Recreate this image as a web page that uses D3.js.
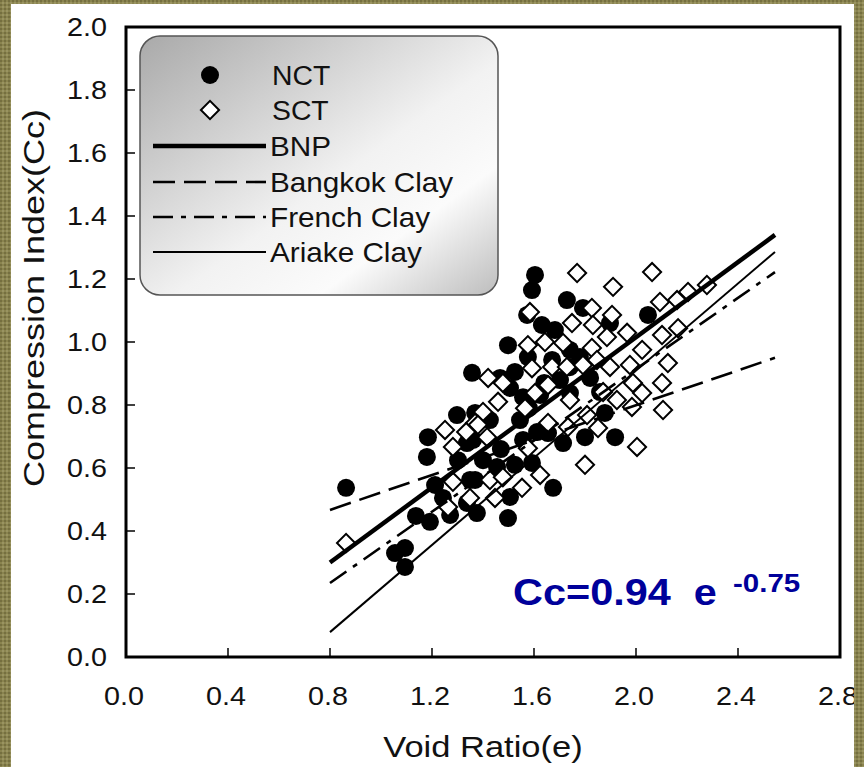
<!DOCTYPE html>
<html>
<head>
<meta charset="utf-8">
<script src="https://cdn.jsdelivr.net/npm/d3@7"></script>
<style>
  html, body { margin: 0; padding: 0; background: #857f4d; }
  svg { display: block; }
  text { font-family: "Liberation Sans", Arial, sans-serif; fill: #111; }
</style>
</head>
<body>
<svg id="viz"></svg>
<script>
const svg = d3.select("#viz");
const width = 864;
const height = 767;
svg.attr("width", width).attr("height", height);

// NCT samples (void ratio e, compression index Cc)
const nctE = [0.863, 1.137, 1.192, 1.055, 1.094, 1.094, 1.184, 1.180, 1.212, 1.243, 1.271, 1.298,
  1.337, 1.302, 1.349, 1.337, 1.376, 1.369, 1.604, 1.592, 1.573, 1.729, 1.792, 1.631, 1.682, 1.498,
  1.357, 1.525, 1.576, 1.671, 1.741, 1.506, 1.467, 1.557, 1.780, 1.898, 1.859, 1.741, 2.047, 1.878,
  1.800, 1.918, 1.714, 1.675, 1.498, 1.506, 1.525, 1.592, 1.557, 1.612, 1.655, 1.455, 1.369, 1.400,
  1.361, 1.624, 1.702, 1.820, 1.545, 1.427, 1.47, 1.58, 1.64, 1.74];
const nctCc = [0.537, 0.448, 0.429, 0.330, 0.346, 0.286, 0.698, 0.635, 0.546, 0.505, 0.451, 0.768,
  0.679, 0.625, 0.562, 0.489, 0.457, 0.775, 1.213, 1.165, 1.086, 1.133, 1.108, 1.054, 1.038, 0.990,
  0.902, 0.905, 0.952, 0.943, 0.975, 0.854, 0.886, 0.825, 0.952, 1.060, 0.841, 0.838, 1.086, 0.775,
  0.698, 0.698, 0.679, 0.537, 0.441, 0.508, 0.610, 0.616, 0.689, 0.714, 0.711, 0.603, 0.562, 0.625,
  0.689, 0.832, 0.879, 0.886, 0.752, 0.752, 0.66, 0.79, 0.87, 0.92];

// SCT samples
const sctE = [0.863, 1.251, 1.282, 1.282, 1.263, 1.349, 1.369, 1.769, 1.910, 1.584, 1.827, 1.906,
  1.749, 1.831, 1.643, 1.576, 1.714, 1.886, 1.827, 1.592, 1.671, 1.729, 1.792, 1.847, 1.898, 1.420,
  1.478, 1.655, 1.459, 1.400, 1.604, 1.741, 1.565, 1.871, 1.925, 2.063, 2.278, 2.204, 2.161, 2.094,
  1.965, 2.102, 2.165, 2.024, 1.976, 2.125, 2.102, 1.988, 2.024, 1.984, 2.106, 2.004, 1.800, 1.624,
  1.553, 1.447, 1.427, 1.478, 1.655, 1.733, 1.851, 1.416, 1.576, 1.808, 1.380, 1.334];
const sctCc = [0.362, 0.721, 0.667, 0.556, 0.476, 0.505, 0.743, 1.219, 1.175, 1.095, 1.108, 1.086,
  1.060, 1.054, 1.000, 0.990, 0.997, 1.016, 0.981, 0.917, 0.921, 0.921, 0.927, 0.943, 0.921, 0.886,
  0.870, 0.863, 0.810, 0.778, 0.838, 0.816, 0.790, 0.841, 0.816, 1.222, 1.181, 1.159, 1.133, 1.127,
  1.029, 1.022, 1.044, 0.975, 0.927, 0.933, 0.870, 0.870, 0.838, 0.794, 0.784, 0.667, 0.610, 0.578,
  0.537, 0.505, 0.562, 0.571, 0.743, 0.730, 0.727, 0.698, 0.663, 0.768, 0.737, 0.714];

// correlation lines: names, start/end void ratio, start/end Cc
const lineNames = ["BNP", "Bangkok Clay", "French Clay", "Ariake Clay"];
const lineE = [0.8, 2.545];
const lineStartCc = [0.30, 0.467, 0.235, 0.079];
const lineEndCc = [1.34, 0.95, 1.222, 1.286];
const lineWidths = [4.5, 2.6, 2.6, 2];
const lineDash = [null, "22,9", "20,8,5,8", null];

const xTicks = [0.0, 0.4, 0.8, 1.2, 1.6, 2.0, 2.4, 2.8];
const yTicks = [0.0, 0.2, 0.4, 0.6, 0.8, 1.0, 1.2, 1.4, 1.6, 1.8, 2.0];

const x = d3.scaleLinear().domain([0, 2.8]).range([126, 840]);
const y = d3.scaleLinear().domain([0, 2.0]).range([657, 27]);

// stretched text helper (the source font is wider than Arial)
function label(g, tx, ty, str, size, anchor, sx, extra) {
  const t = g.append("text")
    .attr("transform", `translate(${tx},${ty}) scale(${sx || 1.15},1)`)
    .attr("font-size", size)
    .attr("text-anchor", anchor || "start")
    .text(str);
  if (extra) extra(t);
  return t;
}

// white panel
svg.append("rect").attr("x", 11).attr("y", 4).attr("width", 843).attr("height", 770).attr("fill", "#fff");

const defs = svg.append("defs");
const grad = defs.append("linearGradient").attr("id", "legendGrad")
  .attr("x1", "0").attr("y1", "0").attr("x2", "1").attr("y2", "1");
grad.append("stop").attr("offset", "0%").attr("stop-color", "#a9a9a9");
grad.append("stop").attr("offset", "55%").attr("stop-color", "#f2f2f2");
grad.append("stop").attr("offset", "75%").attr("stop-color", "#fbfbfb");
grad.append("stop").attr("offset", "100%").attr("stop-color", "#bdbdbd");

const pat = defs.append("pattern").attr("id", "olive")
  .attr("width", 4).attr("height", 4).attr("patternUnits", "userSpaceOnUse");
pat.append("rect").attr("width", 4).attr("height", 4).attr("fill", "#8a844f");
pat.append("rect").attr("width", 2).attr("height", 2).attr("fill", "#756f40");
pat.append("rect").attr("x", 2).attr("y", 2).attr("width", 2).attr("height", 2).attr("fill", "#9a9462");

// ticks (inside)
const axisG = svg.append("g");
axisG.selectAll(".xt").data(xTicks.slice(1, -1)).enter().append("line")
  .attr("x1", d => x(d)).attr("x2", d => x(d))
  .attr("y1", y(0)).attr("y2", y(0) - 9)
  .attr("stroke", "#111").attr("stroke-width", 1.6);
axisG.selectAll(".yt").data(yTicks.slice(1, -1)).enter().append("line")
  .attr("x1", x(0)).attr("x2", x(0) + 9)
  .attr("y1", d => y(d)).attr("y2", d => y(d))
  .attr("stroke", "#111").attr("stroke-width", 1.6);

// tick labels
xTicks.forEach(d => label(svg, x(d) - 2, 705, d.toFixed(1), 25, "middle"));
yTicks.forEach(d => label(svg, 107, y(d) + 9, d.toFixed(1), 25, "end"));

// axis titles
label(svg, 483, 757, "Void Ratio(e)", 30, "middle", 1.15);
svg.append("text")
  .attr("transform", "translate(44,298) rotate(-90) scale(1.2,1)")
  .attr("font-size", 30).attr("text-anchor", "middle")
  .text("Compression Index(Cc)");

// legend box
const legend = svg.append("g");
legend.append("rect").attr("x", 140).attr("y", 36).attr("width", 358).attr("height", 259)
  .attr("rx", 20).attr("ry", 20)
  .attr("fill", "url(#legendGrad)").attr("stroke", "#555").attr("stroke-width", 1.5);

// data points
const diamond = d3.symbol(d3.symbolSquare, 165);
const nct = d3.zip(nctE, nctCc);
const sct = d3.zip(sctE, sctCc);

svg.append("g").selectAll("circle").data(nct).enter().append("circle")
  .attr("cx", d => x(d[0])).attr("cy", d => y(d[1])).attr("r", 9)
  .attr("fill", "#000");

svg.append("g").selectAll("path").data(sct).enter().append("path")
  .attr("d", diamond)
  .attr("transform", d => `translate(${x(d[0])},${y(d[1])}) rotate(45)`)
  .attr("fill", "#fff").attr("stroke", "#000").attr("stroke-width", 2);

// correlation lines
svg.append("g").selectAll("line").data(lineNames).enter().append("line")
  .attr("x1", x(lineE[0])).attr("x2", x(lineE[1]))
  .attr("y1", (d, i) => y(lineStartCc[i])).attr("y2", (d, i) => y(lineEndCc[i]))
  .attr("stroke", "#000")
  .attr("stroke-width", (d, i) => lineWidths[i])
  .attr("stroke-dasharray", (d, i) => lineDash[i]);

// legend entries
const rowY = [75, 110, 146, 182, 217, 252];
legend.append("circle").attr("cx", 210).attr("cy", rowY[0]).attr("r", 9).attr("fill", "#000");
legend.append("path").attr("d", diamond)
  .attr("transform", `translate(210,${rowY[1]}) rotate(45)`)
  .attr("fill", "#fff").attr("stroke", "#000").attr("stroke-width", 2);
label(legend, 272, rowY[0] + 10, "NCT", 27, "start", 1.05);
label(legend, 272, rowY[1] + 10, "SCT", 27, "start", 1.05);
lineNames.forEach((name, i) => {
  legend.append("line")
    .attr("x1", 153).attr("x2", 266)
    .attr("y1", rowY[i + 2]).attr("y2", rowY[i + 2])
    .attr("stroke", "#000").attr("stroke-width", lineWidths[i])
    .attr("stroke-dasharray", lineDash[i]);
  label(legend, 270, rowY[i + 2] + 10, name, 27, "start", 1.1);
});

// frame
svg.append("rect").attr("x", x(0)).attr("y", y(2)).attr("width", x(2.8) - x(0)).attr("height", y(0) - y(2))
  .attr("fill", "none").attr("stroke", "#000").attr("stroke-width", 3);

// equation
svg.append("text")
  .attr("transform", "translate(513,605) scale(1.12,1)")
  .attr("font-size", 37).attr("font-weight", "bold")
  .style("fill", "#00009a")
  .text("Cc=0.94\u00a0\u00a0e");
label(svg, 733, 592, "-0.75", 25, "start", 1.18, t => t.attr("font-weight", "bold").style("fill", "#00009a"));

// olive border on top
svg.append("path")
  .attr("d", `M0,0H${width}V${height}H0Z M11,4V${height}H854V4Z`)
  .attr("fill", "url(#olive)").attr("fill-rule", "evenodd");
</script>
</body>
</html>
